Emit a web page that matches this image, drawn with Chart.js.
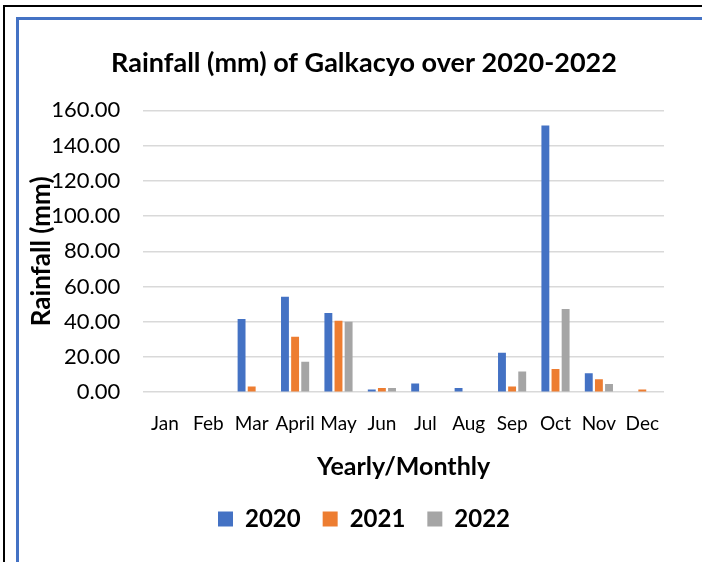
<!DOCTYPE html>
<html>
<head>
<meta charset="utf-8">
<script src="https://cdn.jsdelivr.net/npm/chart.js@4"></script>
<style>
  body { margin: 0; background: #fff; width: 702px; height: 562px; overflow: hidden; position: relative; }
  .outer { position: absolute; left: 3px; top: 5px; right: 0; bottom: 0;
           border-top: 2px solid #000; border-left: 2px solid #000; }
  .inner { position: absolute; left: 16px; top: 17px; right: 0; bottom: 0;
           border-top: 3px solid #4472c4; border-left: 3px solid #4472c4; }
  #wrap { position: absolute; left: 19px; top: 20px; width: 683px; height: 542px; }
</style>
</head>
<body>
<div class="outer"></div>
<div class="inner"></div>
<div id="wrap"><canvas id="chart"></canvas></div>
<script>
const months = ['Jan', 'Feb', 'Mar', 'April', 'May', 'Jun', 'Jul', 'Aug', 'Sep', 'Oct', 'Nov', 'Dec'];
const rain2020 = [0, 0, 41.5, 54.2, 44.9, 1.6, 4.9, 2.4, 22.4, 151.4, 10.7, 0];
const rain2021 = [0, 0, 3.2, 31.5, 40.6, 2.4, 0, 0, 3.2, 13.2, 7.3, 1.6];
const rain2022 = [0, 0, 0, 17.3, 40.0, 2.4, 0, 0, 11.7, 47.2, 4.7, 0];

const font = 'Lato, "Open Sans", sans-serif';

// one dataset per year
const mkSet = (label, data, color) => ({
    label: label,
    data: data,
    backgroundColor: color,
    borderWidth: 0,
    barPercentage: 0.78,
    categoryPercentage: 0.7
});

const ctx = document.getElementById('chart').getContext('2d');
new Chart(ctx, {
    type: 'bar',
    data: {
        labels: months,
        datasets: [
            mkSet('2020', rain2020, '#4472c4'),
            mkSet('2021', rain2021, '#ed7d31'),
            mkSet('2022', rain2022, '#a5a5a5')
        ]
    },
    options: {
        responsive: true,
        maintainAspectRatio: false,
        animation: false,
        layout: { padding: { left: 7, right: 0, top: 0, bottom: 21 } },
        plugins: {
            title: {
                display: true,
                text: 'Rainfall (mm) of Galkacyo over 2020-2022',
                color: '#000',
                font: { family: font, size: 27, weight: 'bold' },
                padding: { top: 27, bottom: 31 }
            },
            legend: {
                position: 'bottom',
                labels: {
                    color: '#000',
                    boxWidth: 15,
                    boxHeight: 15,
                    padding: 22,
                    font: { family: font, size: 24, weight: 'bold' }
                }
            },
            tooltip: { enabled: false }
        },
        scales: {
            x: {
                grid: { display: false, drawTicks: false },
                border: { display: false },
                ticks: {
                    color: '#000',
                    font: { family: font, size: 19 },
                    padding: 20,
                    maxRotation: 0,
                    minRotation: 0,
                    autoSkip: false
                },
                title: {
                    display: true,
                    text: 'Yearly/Monthly',
                    color: '#000',
                    font: { family: font, size: 25, weight: 'bold' },
                    padding: { top: -3, bottom: 3 }
                }
            },
            y: {
                min: 0,
                max: 160,
                grid: { color: '#d9d9d9', lineWidth: 1.5, drawTicks: false },
                border: { display: false },
                ticks: {
                    stepSize: 20,
                    color: '#000',
                    padding: 23,
                    font: { family: font, size: 22 },
                    callback: v => v.toFixed(2)
                },
                title: {
                    display: true,
                    text: 'Rainfall (mm)',
                    color: '#000',
                    font: { family: font, size: 26, weight: 'bold' },
                    padding: { top: 0, bottom: -29 }
                }
            },
            // empty right margin so the plot stops where the reference's does
            yR: {
                position: 'right',
                display: true,
                grid: { display: false },
                border: { display: false },
                ticks: { display: false },
                afterFit: s => { s.width = 38; }
            }
        }
    }
});
</script>
</body>
</html>
